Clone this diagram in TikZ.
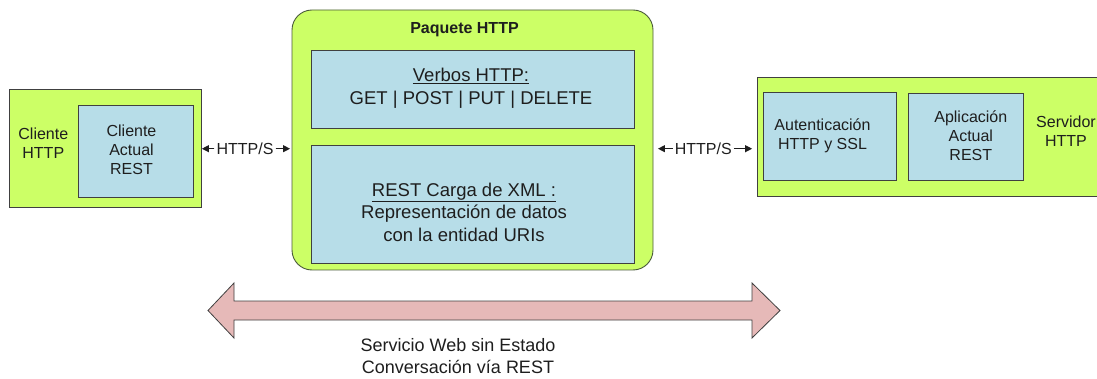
\documentclass[tikz,border=0pt]{standalone}
\usepackage{fontspec}
\setmainfont{Liberation Sans}
\usetikzlibrary{arrows.meta}
\definecolor{limefill}{HTML}{CCFF66}
\definecolor{paleblue}{HTML}{B7DDE8}
\definecolor{pinkfill}{HTML}{E6B9B8}
\definecolor{edgegray}{HTML}{404040}
\definecolor{pkgedge}{HTML}{4A5A3A}
\definecolor{ink}{HTML}{1E1E1E}
\tikzset{
  greenbox/.style={draw=edgegray, fill=limefill, line width=0.8pt, inner sep=0pt},
  bluebox/.style={draw=edgegray, fill=paleblue, line width=0.8pt, inner sep=0pt},
  txt/.style={text=ink, align=center, inner sep=0pt, font=\fontsize{16}{19}\selectfont},
  bigtxt/.style={text=ink, align=center, inner sep=0pt, font=\fontsize{18.5}{22.5}\selectfont},
  conn/.style={-{Triangle[length=7pt,width=7pt]}, line width=1pt, draw=ink, fill=ink},
}
\begin{document}
\begin{tikzpicture}[x=1pt,y=-1pt]
\useasboundingbox (0,0) rectangle (1097,379);
% client
\node[greenbox, minimum width=192pt, minimum height=118pt] (client) at (105,148) {};
\node[bluebox, minimum width=115pt, minimum height=92pt] (clientin) at (135.5,151) {};
\node[txt] (clientlbl) at (43.3,143.7) {Cliente\\HTTP};
\node[txt] (clientintxt) at (131.5,149.7) {Cliente\\Actual\\REST};
% package
\node[draw=pkgedge, fill=limefill, line width=0.9pt, rounded corners=20pt, minimum width=361pt, minimum height=260pt] (pkg) at (472.5,140) {};
\node[text=ink, anchor=base, inner sep=0pt, font=\fontsize{16}{19}\selectfont\bfseries] (pkgtitle) at (464.5,34) {Paquete HTTP};
\node[bluebox, minimum width=323pt, minimum height=78pt] (verbs) at (472.5,89) {};
\node[bigtxt] (verbstxt) at (471,88.3) {\underline{Verbos HTTP:}\\GET | POST | PUT | DELETE};
\node[bluebox, minimum width=323pt, minimum height=118pt] (rest) at (472.5,204) {};
\node[bigtxt] (resttxt) at (464,212.3) {\underline{REST Carga de XML :}\\Representación de datos\\con la entidad URIs};
% server
\node[greenbox, minimum width=353pt, minimum height=119pt] (server) at (933.5,136.5) {};
\node[bluebox, minimum width=133pt, minimum height=88pt] (auth) at (829.5,136) {};
\node[bluebox, minimum width=115pt, minimum height=87pt] (app) at (965.5,136.5) {};
\node[txt] (authtxt) at (822.5,136.2) {Autenticación\\HTTP y SSL};
\node[txt] (apptxt) at (970.8,135.8) {Aplicación\\Actual\\REST};
\node[txt] (servertxt) at (1066,131) {Servidor\\HTTP};
% HTTP/S connectors
\node[txt, inner xsep=2pt] (h1) at (245,148.7) {HTTP/S};
\draw[conn, shorten >=0.5pt] (h1.west) -- (client.east |- h1.west);
\draw[conn, shorten >=1.5pt] (h1.east) -- (pkg.west |- h1.east);
\node[txt, inner xsep=2pt] (h2) at (703.3,148.7) {HTTP/S};
\draw[conn, shorten >=4.5pt] (h2.west) -- (pkg.east |- h2.west);
\draw[conn, shorten >=4.5pt] (h2.east) -- (server.west |- h2.east);
% big double arrow
\draw[draw=edgegray, fill=pinkfill, line width=0.8pt, line join=miter]
  (208,310.5) -- (234,283) -- (234,301) -- (752,301) -- (752,283) -- (780,310.5)
  -- (752,338) -- (752,320) -- (234,320) -- (234,338) -- cycle;
\node[text=ink, align=center, inner sep=0pt, font=\fontsize{18}{22.5}\selectfont] (statetxt) at (458,356) {Servicio Web sin Estado\\Conversación vía REST};
\end{tikzpicture}
\end{document}
